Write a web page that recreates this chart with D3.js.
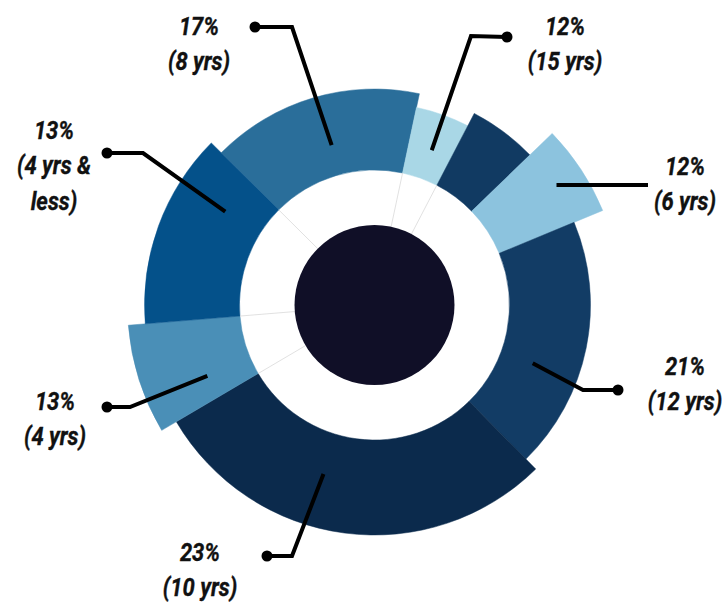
<!DOCTYPE html>
<html>
<head>
<meta charset="utf-8">
<script src="https://cdn.jsdelivr.net/npm/d3@7"></script>
<style>
  html, body { margin: 0; padding: 0; background: #ffffff; }
  svg { display: block; }
  text { font-family: Roboto, "Open Sans", sans-serif; font-weight: 700; font-style: italic; fill: #111111; stroke: #111111; stroke-width: 0.35; }
</style>
</head>
<body>
<svg id="chart" width="728" height="603"></svg>
<script>
// ---- data ----
const categories = ["8 yrs", "15 yrs", "", "6 yrs", "12 yrs", "10 yrs", "4 yrs", "4 yrs & less"];
const percents   = ["17%", "12%", "", "12%", "21%", "23%", "13%", "13%"];
const spanDeg    = [57.2, 15.5, 18.5, 21.5, 68, 104, 25.8, 49.5];   // angular share of each wedge
const reach      = [216, 202, 216, 247, 216, 230, 247, 230];         // outer reach of each wedge
const dividers   = [1, 1, 1, 0, 0, 0, 1, 1];                         // thin rule at wedge start
const colors     = ["#2a6e9a", "#a9d7e6", "#113a62", "#8cc3de", "#123c65", "#0b2a4c", "#4a8fb7", "#04518a"];

// ---- layout (annotation placement) ----
const cx = 374.5, cy = 305;
const startDeg = -45.2;
const labelLayout = {
  "8 yrs":        { x: 199, y: 35,  lines: ["17%", "(8 yrs)"],            lead: { a: -15,   r: 165.6, elbow: [292, 27],  end: [255, 27],  dot: true } },
  "15 yrs":       { x: 565, y: 35,  lines: ["12%", "(15 yrs)"],           lead: { a: 20.3,  r: 165,   elbow: [471, 36],  end: [507, 37],  dot: true } },
  "6 yrs":        { x: 685, y: 175, lines: ["12%", "(6 yrs)"],            lead: { a: 56.6,  r: 218,   elbow: null,       end: [648, 185], dot: false } },
  "12 yrs":       { x: 685, y: 375, lines: ["21%", "(12 yrs)"],           lead: { a: 110.2, r: 168.6, elbow: [583, 390], end: [618, 390], dot: true } },
  "10 yrs":       { x: 200, y: 561, lines: ["23%", "(10 yrs)"],           lead: { a: 196.8, r: 176.5, elbow: [292, 556], end: [267, 556], dot: true } },
  "4 yrs":        { x: 55,  y: 410, lines: ["13%", "(4 yrs)"],            lead: { a: 247,   r: 181.6, elbow: [130, 407], end: [107, 407], dot: true } },
  "4 yrs & less": { x: 54,  y: 139, lines: ["13%", "(4 yrs &", "less)"], lead: { a: 302,   r: 176,   elbow: [143, 153], end: [107, 153], dot: true } }
};

const rad = Math.PI / 180;
const data = categories.map((c, i) => ({ cat: c, pct: percents[i], span: spanDeg[i], reach: reach[i], divider: dividers[i], color: colors[i] }));

const svg = d3.select("#chart");
const g = svg.append("g").attr("transform", `translate(${cx},${cy})`);

const rScale = d3.scaleLinear().domain([0, 250]).range([0, 250]);
const innerR = 135, coreR = 80;

const pie = d3.pie().sort(null).value(d => d.span)
  .startAngle(startDeg * rad).endAngle(startDeg * rad + 2 * Math.PI);
const arcs = pie(data);

const arc = d3.arc().innerRadius(innerR).outerRadius(d => rScale(d.data.reach));

g.selectAll("path.wedge").data(arcs).join("path")
  .attr("class", "wedge")
  .attr("d", arc)
  .attr("fill", d => d.data.color)
  .attr("stroke", d => d.data.color)
  .attr("stroke-width", 0.5);

// thin dividers in the white ring
g.selectAll("line.div").data(arcs.filter(d => d.data.divider)).join("line")
  .attr("class", "div")
  .attr("x1", d => coreR * Math.sin(d.startAngle))
  .attr("y1", d => -coreR * Math.cos(d.startAngle))
  .attr("x2", d => innerR * Math.sin(d.startAngle))
  .attr("y2", d => -innerR * Math.cos(d.startAngle))
  .attr("stroke", "#d4d4d4")
  .attr("stroke-width", 0.7);

// dark core
g.append("circle").attr("r", coreR).attr("fill", "#100f27");

// leaders
const lead = svg.append("g");
Object.values(labelLayout).forEach(L => {
  const p0 = [cx + L.lead.r * Math.sin(L.lead.a * rad), cy - L.lead.r * Math.cos(L.lead.a * rad)];
  const pts = [p0];
  if (L.lead.elbow) pts.push(L.lead.elbow);
  pts.push(L.lead.end);
  lead.append("path")
    .attr("d", d3.line()(pts))
    .attr("fill", "none")
    .attr("stroke", "#000")
    .attr("stroke-width", 4)
    .attr("stroke-linejoin", "miter")
    .attr("stroke-linecap", "butt");
  if (L.lead.dot) {
    lead.append("circle").attr("cx", L.lead.end[0]).attr("cy", L.lead.end[1]).attr("r", 5.5).attr("fill", "#000");
  }
});

// labels
const lab = svg.append("g");
Object.values(labelLayout).forEach(L => {
  const t = lab.append("text")
    .attr("transform", `translate(${L.x},${L.y}) scale(0.88,1)`)
    .attr("text-anchor", "middle")
    .attr("font-size", 25);
  L.lines.forEach((s, i) => {
    t.append("tspan").attr("x", 0).attr("y", i * 35.3).text(s);
  });
});
</script>
</body>
</html>
